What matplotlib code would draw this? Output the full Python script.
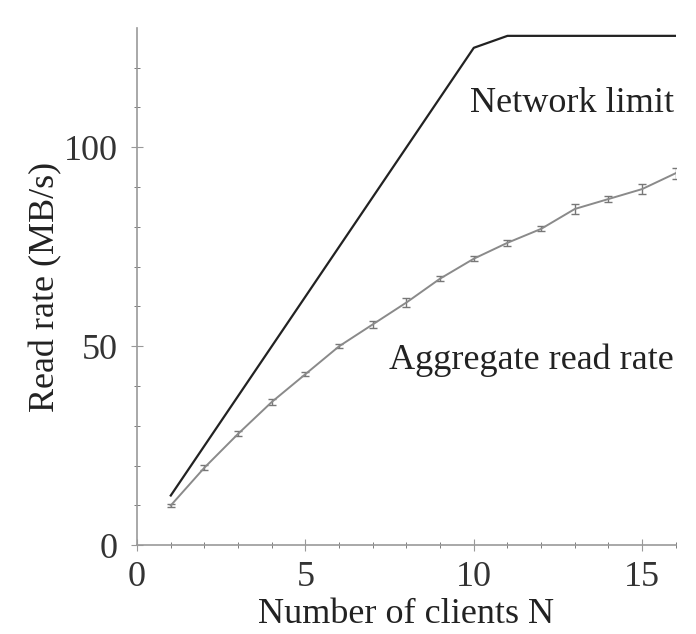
import matplotlib.pyplot as plt
import numpy as np

plt.rcParams['font.family'] = ['Liberation Serif', 'DejaVu Serif']

clients = [1, 2, 3, 4, 5, 6, 7, 8, 9, 10, 11, 12, 13, 14, 15, 16]
read_rate = [10, 19.5, 28, 36, 43, 50, 55.5, 61, 67, 72, 76, 79.5, 84.5, 87, 89.5, 93.5]
read_err = [0.4, 0.6, 0.6, 0.8, 0.5, 0.5, 0.9, 1.1, 0.6, 0.6, 0.8, 0.6, 1.2, 0.8, 1.2, 1.4]
net_limit = [12.5, 25, 37.5, 50, 62.5, 75, 87.5, 100, 112.5, 125, 128, 128, 128, 128, 128, 128]


def main():
    fig = plt.figure(figsize=(6.96, 6.34), dpi=100)
    ax = fig.add_axes([0.197, 0.14, 0.774, 0.816])

    ax.plot(clients, net_limit, color='#222222', lw=1.6)
    ax.errorbar(clients, read_rate, yerr=read_err, color='#8a8a8a', lw=1.4,
                elinewidth=1.0, capsize=3, capthick=1.0, ecolor='#777777')

    ax.text(15.95, 111, "Network limit", ha='right', va='center', fontsize=26, color='#222222')
    ax.text(15.95, 46.5, "Aggregate read rate", ha='right', va='center', fontsize=26, color='#222222')

    ax.set_xlim(0, 16)
    ax.set_ylim(0, 130)
    ax.set_xticks([0, 5, 10, 15])
    ax.set_xticks(np.arange(0, 17), minor=True)
    ax.set_yticks([0, 50, 100])
    ax.set_yticks(np.arange(0, 130, 10), minor=True)

    for side in ['top', 'right']:
        ax.spines[side].set_visible(False)
    for side in ['left', 'bottom']:
        ax.spines[side].set_color('#999999')
        ax.spines[side].set_linewidth(1.2)

    ax.tick_params(which='major', direction='inout', length=8, color='#999999',
                   labelsize=26, labelcolor='#333333')
    ax.tick_params(axis='x', which='major', pad=7)
    ax.tick_params(axis='y', which='major', pad=10)
    ax.tick_params(which='minor', direction='inout', length=4, color='#666666')

    ax.set_xlabel("Number of clients N", fontsize=26, color='#222222', labelpad=3)
    ax.set_ylabel("Read rate (MB/s)", fontsize=26, color='#222222', labelpad=1)

    fig.savefig('out.png', dpi=100)


if __name__ == '__main__':
    main()
